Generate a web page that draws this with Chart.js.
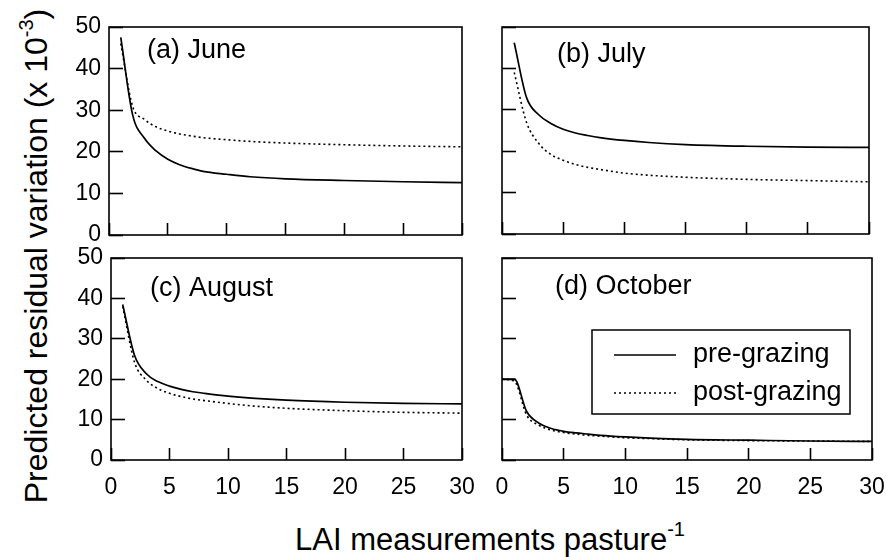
<!DOCTYPE html>
<html>
<head>
<meta charset="utf-8">
<script src="https://cdn.jsdelivr.net/npm/chart.js@4.4.1/dist/chart.umd.min.js"></script>
<style>
  body { margin: 0; background: #fff; width: 886px; height: 557px; overflow: hidden; position: relative; font-family: 'Liberation Sans', Arial, sans-serif; }
  canvas { position: absolute; }
  .ytitle { position: absolute; left: 36px; top: 256px; transform: translate(-50%, -50%) rotate(-90deg); white-space: nowrap; font-size: 32px; color: #000; }
  .xtitle { position: absolute; left: 295px; top: 522px; white-space: nowrap; font-size: 31px; color: #000; }
  sup { font-size: 20px; vertical-align: 0; position: relative; top: -14px; }
</style>
</head>
<body>
<canvas id="pa"></canvas>
<canvas id="pb"></canvas>
<canvas id="pc"></canvas>
<canvas id="pd"></canvas>
<div class="ytitle">Predicted residual variation (x 10<sup>-3</sup>)</div>
<div class="xtitle">LAI measurements pasture<sup>-1</sup></div>
<script>
// LAI measurements per pasture
const xs = [0, 1, 2, 3, 4, 5, 6, 7, 8, 10, 12, 15, 20, 25, 30];

// predicted residual variation (x 10^-3)
const junePre   = [null, 47.5, 29, 23.3, 20.2, 18.2, 16.9, 16.0, 15.3, 14.6, 14.0, 13.5, 13.1, 12.8, 12.6];
const junePost  = [null, 46, 31, 27.8, 26.0, 25.0, 24.3, 23.8, 23.4, 22.9, 22.5, 22.1, 21.7, 21.4, 21.2];
const julyPre   = [null, 46.2, 33, 28.8, 26.7, 25.3, 24.4, 23.8, 23.3, 22.6, 22.1, 21.6, 21.2, 21.0, 20.9];
const julyPost  = [null, 39, 27, 21.9, 19.2, 17.8, 16.8, 16.1, 15.6, 14.7, 14.2, 13.7, 13.2, 12.9, 12.6];
const augPre    = [null, 38.5, 26, 21.4, 19.4, 18.3, 17.5, 16.9, 16.5, 15.8, 15.3, 14.8, 14.3, 14.0, 13.9];
const augPost   = [null, 38, 24.3, 19.8, 17.7, 16.5, 15.7, 15.1, 14.7, 14.0, 13.4, 12.8, 12.2, 11.8, 11.6];
const octPre    = [20, 20, 12, 9.1, 7.8, 7.1, 6.7, 6.4, 6.1, 5.7, 5.4, 5.1, 4.9, 4.7, 4.6];
const octPost   = [20, 19.5, 11.1, 8.6, 7.4, 6.8, 6.4, 6.1, 5.9, 5.5, 5.3, 5.0, 4.8, 4.7, 4.6];

const xTicks = [0, 5, 10, 15, 20, 25, 30];
const yTicks = [0, 10, 20, 30, 40, 50];
const seriesNames = ['pre-grazing', 'post-grazing'];

const FONT = "'Liberation Sans', Arial, sans-serif";
const PADL = 50, PADT = 40, PADR = 40, PADB = 45;

const toPoints = ys => xs.map((x, i) => ({ x: x, y: ys[i] }));

// box around plot + panel label + legend
const framePlugin = {
  id: 'frame',
  afterDraw(chart, args, opts) {
    const ctx = chart.ctx;
    const a = chart.chartArea;
    ctx.save();
    ctx.setLineDash([]);
    ctx.strokeStyle = '#000';
    ctx.fillStyle = '#000';
    ctx.lineWidth = 1.6;
    ctx.strokeRect(a.left, a.top, a.right - a.left, a.bottom - a.top);

    ctx.font = '27px ' + FONT;
    ctx.textBaseline = 'middle';
    ctx.fillText(opts.label, a.left + opts.lx, a.top + opts.ly);

    if (opts.legend) {
      const lg = opts.legend;
      const bx = a.left + lg.x, by = a.top + lg.y;
      ctx.lineWidth = 1.5;
      ctx.strokeRect(bx, by, lg.w, lg.h);
      chart.data.datasets.forEach((ds, i) => {
        const yy = by + 25 + i * 38;
        ctx.setLineDash(ds.borderDash || []);
        ctx.lineWidth = 1.4;
        ctx.beginPath();
        ctx.moveTo(bx + 22, yy);
        ctx.lineTo(bx + 84, yy);
        ctx.stroke();
        ctx.setLineDash([]);
        ctx.fillText(ds.label, bx + 101, yy);
      });
    }
    ctx.restore();
  }
};

// tick marks drawn by the axes themselves, pointing inward (negative length)
const inwardGrid = len => ({
  display: true, drawOnChartArea: false, drawTicks: true,
  tickLength: -len, tickWidth: 1.6, tickColor: '#000'
});

function panel(id, rect, pre, post, o) {
  const cv = document.getElementById(id);
  const w = rect.r - rect.l + PADL + PADR;
  const h = rect.b - rect.t + PADT + PADB;
  cv.width = w; cv.height = h;
  cv.style.left = (rect.l - PADL) + 'px';
  cv.style.top = (rect.t - PADT) + 'px';
  cv.style.width = w + 'px'; cv.style.height = h + 'px';

  return new Chart(cv.getContext('2d'), {
    type: 'line',
    data: {
      datasets: [
        { label: seriesNames[0], data: toPoints(pre), borderColor: '#000', borderWidth: 1.7, pointRadius: 0, cubicInterpolationMode: 'monotone' },
        { label: seriesNames[1], data: toPoints(post), borderColor: '#000', borderWidth: 1.6, borderDash: [2, 3], pointRadius: 0, cubicInterpolationMode: 'monotone' }
      ]
    },
    options: {
      responsive: false,
      animation: false,
      devicePixelRatio: 1,
      layout: { padding: { left: 0, top: PADT, right: PADR, bottom: 0 } },
      plugins: {
        legend: { display: false },
        tooltip: { enabled: false },
        frame: { label: o.label, lx: o.lx, ly: o.ly, legend: o.legend }
      },
      scales: {
        x: {
          type: 'linear', min: 0, max: 30,
          afterBuildTicks: s => { s.ticks = xTicks.map(v => ({ value: v })); },
          afterFit: s => { s.height = PADB; },
          grid: inwardGrid(12), border: { display: false },
          ticks: { display: o.xlab, color: '#000', padding: 26, font: { size: 23, family: FONT } }
        },
        y: {
          min: 0, max: 50,
          afterBuildTicks: s => { s.ticks = yTicks.map(v => ({ value: v })); },
          afterFit: s => { s.width = PADL; },
          grid: inwardGrid(14), border: { display: false },
          ticks: { display: o.ylab, color: '#000', padding: 22, font: { size: 23, family: FONT } }
        }
      }
    },
    plugins: [framePlugin]
  });
}

panel('pa', { l: 109, t: 27, r: 462, b: 235 }, junePre, junePost, { label: '(a) June', lx: 38, ly: 24, xlab: false, ylab: true });
panel('pb', { l: 502, t: 27, r: 869, b: 234 }, julyPre, julyPost, { label: '(b) July', lx: 55, ly: 28, xlab: false, ylab: false });
panel('pc', { l: 111, t: 258, r: 462, b: 460 }, augPre, augPost, { label: '(c) August', lx: 39, ly: 31, xlab: true, ylab: true });
panel('pd', { l: 502, t: 258, r: 872, b: 460 }, octPre, octPost, { label: '(d) October', lx: 53, ly: 29, xlab: true, ylab: false,
  legend: { x: 90, y: 72, w: 258, h: 84 } });
</script>
</body>
</html>
